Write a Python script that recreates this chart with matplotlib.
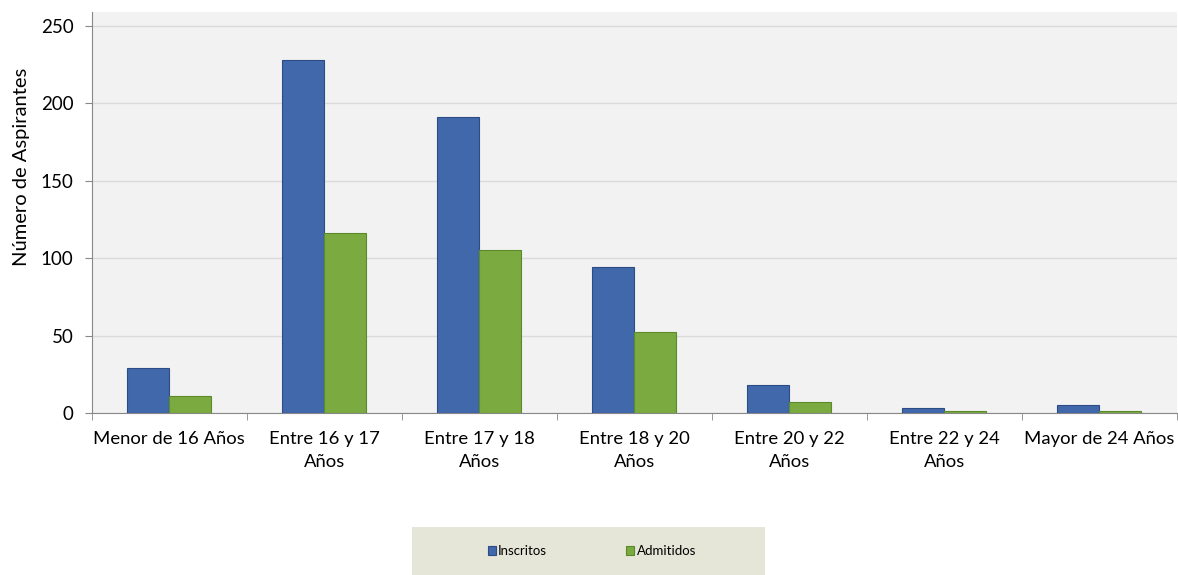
import matplotlib
matplotlib.use('Agg')
import matplotlib.pyplot as plt
from matplotlib.patches import Rectangle
import numpy as np

categories = ['Menor de 16 Años', 'Entre 16 y 17\nAños', 'Entre 17 y 18\nAños', 'Entre 18 y 20\nAños',
              'Entre 20 y 22\nAños', 'Entre 22 y 24\nAños', 'Mayor de 24 Años']
inscritos = [29, 228, 191, 94, 18, 3, 5]
admitidos = [11, 116, 105, 52, 7, 1, 1]
yticks = [0, 50, 100, 150, 200, 250]

plt.rcParams['font.family'] = ['Lato', 'DejaVu Sans']

fig = plt.figure(figsize=(11.78, 5.75), dpi=100)
ax = fig.add_axes([91.7 / 1178, 1 - 413 / 575, 1085 / 1178, 401 / 575])
ax.set_facecolor('#f2f2f2')

x = np.arange(len(categories))
w = 0.27
ax.bar(x - w / 2, inscritos, w, color='#4268ac', edgecolor='#2c4c86', linewidth=0.8, label='Inscritos', zorder=3)
ax.bar(x + w / 2, admitidos, w, color='#7aaa40', edgecolor='#5a8a2a', linewidth=0.8, label='Admitidos', zorder=3)

ax.set_xlim(-0.5, len(categories) - 0.5)
ax.set_ylim(0, 259)
ax.set_yticks(yticks)
ax.yaxis.grid(True, color='#dadada', linewidth=1, zorder=0)
ax.tick_params(axis='y', labelsize=13.5, length=5, pad=8, color='#888888', labelcolor='black')

ax.set_xticks(x)
ax.set_xticklabels(categories, fontsize=13.3, linespacing=1.5)
ax.tick_params(axis='x', length=0, pad=13)
ax.set_xticks(np.arange(len(categories) + 1) - 0.5, minor=True)
ax.tick_params(axis='x', which='minor', length=5, color='#888888')

for s in ['top', 'right']:
    ax.spines[s].set_visible(False)
for s in ['left', 'bottom']:
    ax.spines[s].set_color('#888888')

ax.set_ylabel('Número de Aspirantes', fontsize=14.5)
ax.yaxis.set_label_coords(-0.057, 0.613)

fig.patches.append(Rectangle((412 / 1178, 0), 353 / 1178, 48 / 575, transform=fig.transFigure,
                             facecolor='#e5e5d8', edgecolor='none', zorder=0))
fig.legend(loc='center', bbox_to_anchor=(592 / 1178, 1 - 551 / 575), ncol=2, frameon=False,
           fontsize=9.5, handlelength=0.6, handleheight=0.6, handletextpad=0.2, columnspacing=6.0)

fig.savefig('out.png', dpi=100)
